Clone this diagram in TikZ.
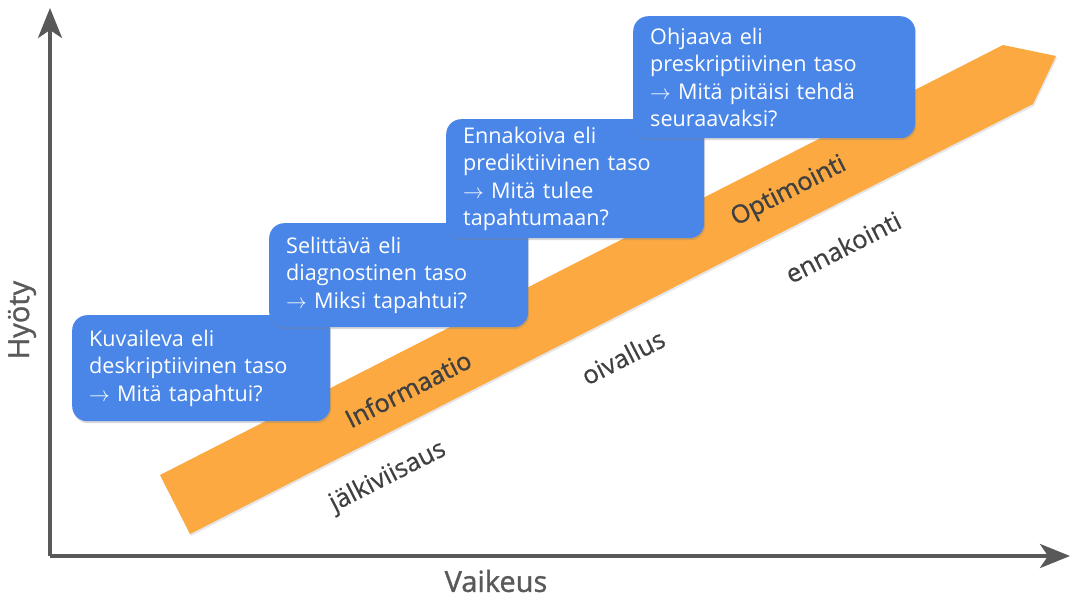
\documentclass[tikz,border=0pt]{standalone}
\usepackage{fontspec}
\setmainfont{Open Sans}
\newfontfamily\semib[FakeBold=1.2]{Open Sans}
\newfontfamily\medf[FakeBold=0.6]{Open Sans}
\usetikzlibrary{arrows.meta,shadows}
\definecolor{boxblue}{HTML}{4A86E8}
\definecolor{arroworange}{HTML}{FBA940}
\definecolor{axisgray}{HTML}{595959}
\definecolor{labelgray}{HTML}{404040}
\tikzset{
  infobox/.style={fill=boxblue, rounded corners=15pt, text=white, align=left,
    inner xsep=17pt, inner ysep=0pt, anchor=north west,
    font=\fontsize{21.6}{27.5}\selectfont,
    drop shadow={opacity=0.3, shadow xshift=1pt, shadow yshift=-2pt}},
  axisline/.style={draw=axisgray, line width=4pt,
    -{Stealth[length=30pt, width=24pt, inset=8pt]}},
  axislabel/.style={text=axisgray, font=\semib\fontsize{29}{34}\selectfont},
  arrowlabel/.style={text=labelgray, rotate=27, font=\medf\fontsize{25.5}{30}\selectfont},
  bandlabel/.style={text=labelgray, rotate=27, font=\semib\fontsize{25}{30}\selectfont},
}
\begin{document}
\begin{tikzpicture}[x=1pt, y=-1pt]
\useasboundingbox (0,0) rectangle (1070,596);
% axes
\coordinate (O) at (50,556);
\coordinate (Y) at (50,8);
\coordinate (X) at (1070,556);
\draw[axisline] (O) -- (Y);
\draw[axisline] (O) -- (X);
\node[axislabel, rotate=90] (ylab) at (22,320) {Hyöty};
\node[axislabel] (xlab) at (496,581) {Vaikeus};
% band arrow
\fill[arroworange, drop shadow={opacity=0.2, shadow xshift=1pt, shadow yshift=-2pt}]
  (160,475) -- (1003,45) -- (1056,56) -- (1033,104) -- (190,534) -- cycle;
\node[bandlabel] (info) at (408,389) {Informaatio};
\node[bandlabel] (opti) at (789,192) {Optimointi};
\node[arrowlabel] (jalki) at (388,477) {jälkiviisaus};
\node[arrowlabel] (oival) at (623,357) {oivallus};
\node[arrowlabel] (ennak) at (843,247) {ennakointi};
% boxes
\node[infobox, minimum width=258pt, text width=224pt, minimum height=106pt] (b1) at (72,315)
  {Kuvaileva eli\\deskriptiivinen taso\\$\to$ Mitä tapahtui?};
\node[infobox, minimum width=259pt, text width=225pt, minimum height=104pt] (b2) at (269,223)
  {Selittävä eli\\diagnostinen taso\\$\to$ Miksi tapahtui?};
\node[infobox, minimum width=258pt, text width=224pt, minimum height=119pt] (b3) at (446,119)
  {Ennakoiva eli\\prediktiivinen taso\\$\to$ Mitä tulee\\tapahtumaan?};
\node[infobox, minimum width=282pt, text width=248pt, minimum height=122pt] (b4) at (633,16)
  {Ohjaava eli\\preskriptiivinen taso\\$\to$ Mitä pitäisi tehdä\\seuraavaksi?};
\end{tikzpicture}
\end{document}
